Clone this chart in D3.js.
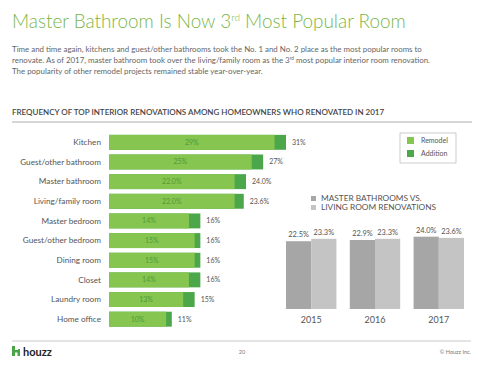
<!DOCTYPE html>
<html><head><meta charset="utf-8">
<script src="https://cdn.jsdelivr.net/npm/d3@7"></script>
<style>
body{margin:0;background:#fff;}
svg{font-family:Lato,"Open Sans",sans-serif;}
</style></head>
<body><svg id="c" width="481" height="366"></svg>
<script>
const categories = ["Kitchen","Guest/other bathroom","Master bathroom","Living/family room","Master bedroom","Guest/other bedroom","Dining room","Closet","Laundry room","Home office"];
const remodel = [29,25,22.0,22.0,14,15,15,14,13,10];
const total = [31,27,24.0,23.6,16,16,16,16,15,11];
const remodelLabels = ["29%","25%","22.0%","22.0%","14%","15%","15%","14%","13%","10%"];
const totalLabels = ["31%","27%","24.0%","23.6%","16%","16%","16%","16%","15%","11%"];
const years = ["2015","2016","2017"];
const masterBath = [22.5,22.9,24.0];
const livingRoom = [23.3,23.3,23.6];
const masterLabels = ["22.5%","22.9%","24.0%"];
const livingLabels = ["23.3%","23.3%","23.6%"];

const svg = d3.select("#c");
const green="#86c550", dgreen="#4ca64a", gray1="#a6a6a6", gray2="#c4c4c4", txt="#555";

// Title
const t = svg.append("text").attr("x",12).attr("y",28).attr("fill","#7ab648")
  .attr("font-size",18.9).attr("font-weight",300);
t.append("tspan").text("Master Bathroom Is Now 3");
t.append("tspan").text("rd").attr("font-size",10).attr("dy",-7);
t.append("tspan").text(" Most Popular Room").attr("dy",7);

const para = svg.append("g").attr("fill","#666").attr("font-size",7.9);
para.append("text").attr("x",12).attr("y",52).text("Time and time again, kitchens and guest/other bathrooms took the No. 1 and No. 2 place as the most popular rooms to");
const p2 = para.append("text").attr("x",12).attr("y",63);
p2.append("tspan").text("renovate. As of 2017, master bathroom took over the living/family room as the 3");
p2.append("tspan").text("rd").attr("font-size",4.8).attr("dy",-3);
p2.append("tspan").text(" most popular interior room renovation.").attr("dy",3);
para.append("text").attr("x",12).attr("y",74).text("The popularity of other remodel projects remained stable year-over-year.");

svg.append("text").attr("x",12).attr("y",115).attr("fill","#444").attr("font-size",8).attr("font-weight",600)
  .text("FREQUENCY OF TOP INTERIOR RENOVATIONS AMONG HOMEOWNERS WHO RENOVATED IN 2017");
svg.append("line").attr("x1",12).attr("x2",472).attr("y1",122).attr("y2",122).attr("stroke","#999").attr("stroke-width",0.8);

// Left chart
const x = d3.scaleLinear().domain([0,31]).range([109,286]);
const y = d3.scaleBand().domain(categories).range([132.5,329]).paddingInner(0.24).paddingOuter(0.12);
const rows = svg.append("g").selectAll("g").data(categories).join("g");
rows.append("rect").attr("x",x(0)).attr("y",d=>y(d)).attr("height",y.bandwidth())
  .attr("width",(d,i)=>x(total[i])-x(0)).attr("fill",dgreen);
rows.append("rect").attr("x",x(0)).attr("y",d=>y(d)).attr("height",y.bandwidth())
  .attr("width",(d,i)=>x(remodel[i])-x(0)).attr("fill",green);
rows.append("text").attr("x",101).attr("y",d=>y(d)+y.bandwidth()/2+2.8).attr("text-anchor","end")
  .attr("font-size",8.2).attr("fill",txt).text(d=>d);
rows.append("text").attr("x",(d,i)=>(x(0)+x(remodel[i]))/2).attr("y",d=>y(d)+y.bandwidth()/2+2.5)
  .attr("text-anchor","middle").attr("font-size",7).attr("fill","#4f9a3a").text((d,i)=>remodelLabels[i]);
rows.append("text").attr("x",(d,i)=>x(total[i])+6).attr("y",d=>y(d)+y.bandwidth()/2+2.5)
  .attr("font-size",7).attr("fill",txt).text((d,i)=>totalLabels[i]);

// legend
svg.append("rect").attr("x",400).attr("y",133).attr("width",56).attr("height",30).attr("fill","none").attr("stroke","#aaa").attr("stroke-width",0.6);
[["Remodel",green,137],["Addition",dgreen,150]].forEach(([l,c,yy])=>{
  svg.append("rect").attr("x",407).attr("y",yy).attr("width",7).attr("height",7).attr("fill",c);
  svg.append("text").attr("x",421).attr("y",yy+6).attr("font-size",7).attr("fill",txt).text(l);
});

// Right chart
const x0 = d3.scaleBand().domain(years).range([286,464]).paddingInner(0.21);
const x1 = d3.scaleBand().domain(["m","l"]).range([0,x0.bandwidth()]);
const yr = d3.scaleLinear().domain([0,24]).range([309,236.7]);
const grp = svg.append("g").selectAll("g").data(years).join("g").attr("transform",d=>`translate(${x0(d)},0)`);
grp.append("rect").attr("x",x1("m")).attr("width",x1.bandwidth()).attr("y",(d,i)=>yr(masterBath[i])).attr("height",(d,i)=>yr(0)-yr(masterBath[i])).attr("fill",gray1);
grp.append("rect").attr("x",x1("l")).attr("width",x1.bandwidth()).attr("y",(d,i)=>yr(livingRoom[i])).attr("height",(d,i)=>yr(0)-yr(livingRoom[i])).attr("fill",gray2);
grp.append("text").attr("x",x1("m")+x1.bandwidth()/2).attr("y",(d,i)=>yr(masterBath[i])-4).attr("text-anchor","middle").attr("font-size",7.4).attr("fill",txt).text((d,i)=>masterLabels[i]);
grp.append("text").attr("x",x1("l")+x1.bandwidth()/2).attr("y",(d,i)=>yr(livingRoom[i])-4).attr("text-anchor","middle").attr("font-size",7.4).attr("fill",txt).text((d,i)=>livingLabels[i]);
grp.append("text").attr("x",x0.bandwidth()/2).attr("y",323).attr("text-anchor","middle").attr("font-size",9).attr("fill",txt).text(d=>d);

[["MASTER BATHROOMS VS.",gray1,197],["LIVING ROOM RENOVATIONS",gray2,206]].forEach(([l,c,yy])=>{
  svg.append("rect").attr("x",311).attr("y",yy-1).attr("width",5).attr("height",5).attr("fill",c);
  svg.append("text").attr("x",321).attr("y",yy+4).attr("font-size",8.3).attr("fill",txt).text(l);
});

// footer
svg.append("line").attr("x1",12).attr("x2",471).attr("y1",341).attr("y2",341).attr("stroke","#bbb").attr("stroke-width",0.8);
const logo = svg.append("g").attr("transform","translate(12,346)");
logo.append("path").attr("d","M0,0 H3 V4 H6 V3 H8 V10 H5.5 V6.5 H3 V10 H0 Z").attr("fill","#4aa548");
svg.append("text").attr("x",23).attr("y",355.5).attr("font-size",11).attr("font-weight",700).attr("fill","#222").text("houzz");
svg.append("text").attr("x",242).attr("y",354).attr("text-anchor","middle").attr("font-size",5.5).attr("fill","#777").text("20");
svg.append("text").attr("x",471).attr("y",354).attr("text-anchor","end").attr("font-size",5.5).attr("fill","#777").text("© Houzz Inc.");
</script></body></html>
